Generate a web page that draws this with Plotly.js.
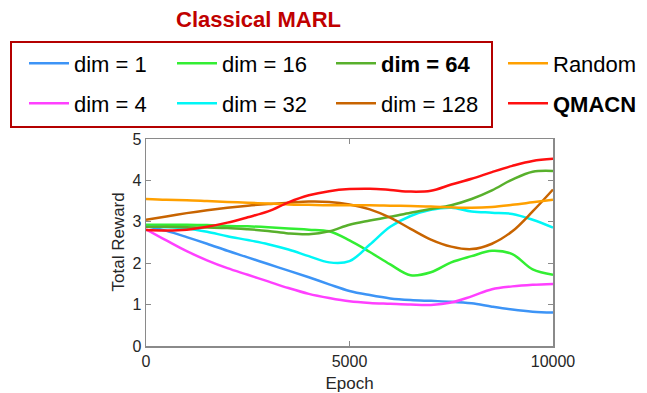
<!DOCTYPE html>
<html>
<head>
<meta charset="utf-8">
<script src="https://cdn.plot.ly/plotly-3.0.1.min.js"></script>
<style>
html,body{margin:0;padding:0;background:#fff;}
#chart{width:647px;height:393px;}
</style>
</head>
<body>
<div id="chart"></div>
<script>
// Epoch samples
const epochs = [0,500,1000,1500,2000,2500,3000,3500,4000,4500,5000,5500,6000,6500,7000,7500,8000,8500,9000,9500,10000];

// Series values (Total Reward)
const dim1   = [2.90,2.78,2.63,2.47,2.30,2.14,1.98,1.82,1.66,1.49,1.33,1.23,1.15,1.11,1.09,1.07,1.03,0.95,0.88,0.83,0.81];
const dim4   = [2.82,2.55,2.29,2.07,1.88,1.72,1.56,1.40,1.26,1.16,1.08,1.04,1.02,1.00,0.99,1.05,1.20,1.37,1.44,1.48,1.50];
const dim16  = [2.93,2.93,2.93,2.92,2.90,2.89,2.87,2.84,2.81,2.77,2.55,2.27,1.97,1.71,1.78,2.02,2.17,2.30,2.22,1.85,1.72];
const dim32  = [2.88,2.87,2.84,2.76,2.65,2.56,2.46,2.33,2.17,2.02,2.05,2.45,2.88,3.14,3.29,3.34,3.25,3.22,3.19,3.05,2.86];
const dim64  = [2.88,2.88,2.87,2.86,2.85,2.82,2.78,2.72,2.70,2.77,2.93,3.03,3.12,3.22,3.31,3.40,3.55,3.76,4.02,4.21,4.23];
const dim128 = [3.05,3.13,3.21,3.28,3.34,3.39,3.43,3.46,3.49,3.48,3.42,3.30,3.10,2.83,2.57,2.40,2.34,2.47,2.77,3.25,3.78];
const randomR= [3.55,3.53,3.52,3.50,3.48,3.46,3.44,3.42,3.41,3.40,3.40,3.40,3.39,3.38,3.37,3.35,3.34,3.36,3.41,3.47,3.53];
const qmacn  = [2.80,2.79,2.81,2.88,2.98,3.11,3.25,3.47,3.64,3.74,3.79,3.80,3.77,3.73,3.75,3.90,4.04,4.20,4.35,4.47,4.52];

const names  = ['dim = 1','dim = 4','dim = 16','dim = 32','<b>dim = 64</b>','dim = 128','Random','<b>QMACN</b>'];
const series = [dim1, dim4, dim16, dim32, dim64, dim128, randomR, qmacn];
const colors = ['#3d94f6','#ff40ff','#33ee33','#00f6f6','#58b02c','#c86400','#ffa000','#ff1010'];
const legendIds = ['legend','legend','legend2','legend2','legend3','legend3','legend4','legend4'];

const xTicks = [0,5000,10000];
const yTicks = [0,1,2,3,4,5];

const data = series.map((ys, i) => ({
  x: epochs, y: ys, type: 'scatter', mode: 'lines',
  name: names[i], legend: legendIds[i], legendgroup: 'g' + i,
  line: {color: colors[i], width: 2.5, shape: 'spline', smoothing: 1},
  hoverinfo: 'skip'
}));

const W = 647, H = 393;
const M = {l: 146, r: 94, t: 139, b: 47, autoexpand: false};
const pw = W - M.l - M.r, ph = H - M.t - M.b;
const px = v => (v - M.l) / pw;            // pixel x -> paper x
const py = v => (H - M.b - v) / ph;        // pixel y -> paper y

const FAM = 'Liberation Sans, Arial, sans-serif';
const legFont = {family: FAM, size: 22, color: '#000'};
function leg(xpx){
  return {xref: 'container', yref: 'container', x: xpx / W, y: 1 - 42.5 / H,
    xanchor: 'left', yanchor: 'top', orientation: 'v', traceorder: 'grouped',
    tracegroupgap: 8.4, itemwidth: 40, font: legFont,
    bgcolor: 'rgba(0,0,0,0)', borderwidth: 0};
}

const axisCommon = {
  showline: true, linecolor: '#8a8a8a', linewidth: 1.5, mirror: 'ticks',
  ticks: 'inside', ticklen: 5, tickcolor: '#8a8a8a', tickwidth: 1.2,
  showgrid: false, zeroline: false, automargin: false,
  tickfont: {family: FAM, size: 16, color: '#262626'}
};

const layout = {
  width: W, height: H, margin: M,
  paper_bgcolor: '#fff', plot_bgcolor: '#fff',
  showlegend: true,
  xaxis: Object.assign({}, axisCommon, {range: [0, 10000], tickvals: xTicks, ticktext: xTicks.map(String),
    title: {text: 'Epoch', font: {family: FAM, size: 17, color: '#262626'}}}),
  yaxis: Object.assign({}, axisCommon, {range: [0, 5], tickvals: yTicks, ticktext: yTicks.map(String)}),
  legend: leg(24), legend2: leg(172), legend3: leg(331), legend4: leg(503),
  shapes: [{type: 'rect', xref: 'paper', yref: 'paper',
    x0: px(11), x1: px(492), y0: py(127), y1: py(42),
    line: {color: '#b40000', width: 2}, fillcolor: 'rgba(0,0,0,0)'}],
  annotations: [
    {text: '<b>Classical MARL</b>', xref: 'paper', yref: 'paper',
     x: px(258), y: py(20), xanchor: 'center', yanchor: 'middle', showarrow: false,
     font: {family: FAM, size: 22, color: '#c00000'}},
    {text: 'Total Reward', xref: 'paper', yref: 'paper', textangle: -90,
     x: px(118), y: 0.5, xanchor: 'center', yanchor: 'middle', showarrow: false,
     font: {family: FAM, size: 17, color: '#262626'}}
  ]
};

Plotly.newPlot('chart', data, layout, {displayModeBar: false, staticPlot: true});
</script>
</body>
</html>
